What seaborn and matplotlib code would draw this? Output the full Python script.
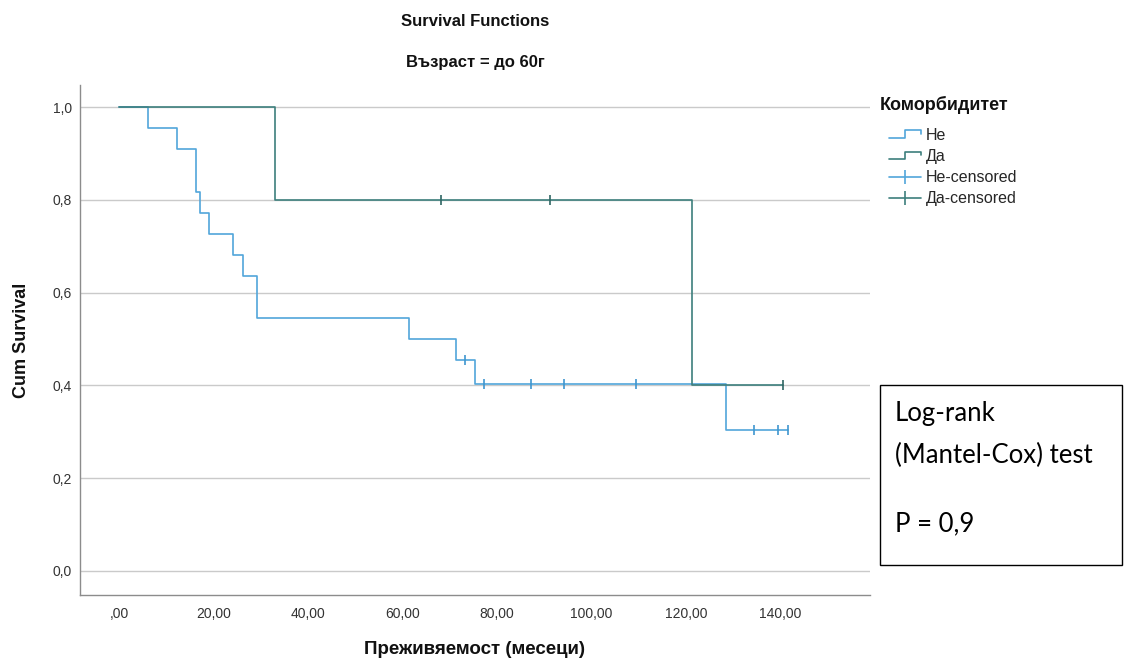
import numpy as np
import pandas as pd
import matplotlib
matplotlib.use("Agg")
import matplotlib.pyplot as plt
import seaborn as sns
from matplotlib.legend_handler import HandlerBase
from matplotlib.lines import Line2D
from matplotlib.patches import Rectangle
from matplotlib.ticker import FuncFormatter

# Kaplan-Meier step estimates (months, cumulative survival)
ne_time = [0, 6.1, 12.2, 16.2, 17.2, 19.1, 24.2, 26.2, 29.2, 61.3, 71.3, 75.3, 128.5, 141.6]
ne_surv = [1.0, 0.955, 0.909, 0.818, 0.773, 0.727, 0.682, 0.636, 0.545, 0.500, 0.455, 0.404, 0.303, 0.303]
da_time = [0, 33.1, 121.4, 140.5]
da_surv = [1.0, 0.8, 0.4, 0.4]

# Censored observations
ne_cens_time = [73.3, 77.3, 87.3, 94.3, 109.5, 134.5, 139.5, 141.6]
ne_cens_surv = [0.455, 0.404, 0.404, 0.404, 0.404, 0.303, 0.303, 0.303]
da_cens_time = [68.2, 91.3, 140.5]
da_cens_surv = [0.8, 0.8, 0.4]

groups = ["Не", "Да"]
line_colors = {"Не": "#52a6da", "Да": "#3d7f7d"}
cens_colors = {"Не": "#3f96cf", "Да": "#2f6664"}

x_ticks = [0, 20, 40, 60, 80, 100, 120, 140]
y_ticks = [0.0, 0.2, 0.4, 0.6, 0.8, 1.0]

steps = pd.concat([
    pd.DataFrame({"time": ne_time, "surv": ne_surv, "group": "Не"}),
    pd.DataFrame({"time": da_time, "surv": da_surv, "group": "Да"}),
], ignore_index=True)
cens = pd.concat([
    pd.DataFrame({"time": ne_cens_time, "surv": ne_cens_surv, "group": "Не"}),
    pd.DataFrame({"time": da_cens_time, "surv": da_cens_surv, "group": "Да"}),
], ignore_index=True)

sns.set_style("white")
plt.rcParams["font.family"] = ["Liberation Sans", "DejaVu Sans"]

W, H = 1124, 668
fig = plt.figure(figsize=(W / 100, H / 100), dpi=100)
ax = fig.add_axes([80 / W, 1 - 595 / H, 790 / W, 510 / H])

for g in groups:
    sub = steps[steps["group"] == g]
    sns.lineplot(data=sub, x="time", y="surv", color=line_colors[g],
                 drawstyle="steps-post", estimator=None, sort=False,
                 linewidth=1.2, ax=ax, legend=False)
for g in groups:
    sub = cens[cens["group"] == g]
    sns.scatterplot(data=sub, x="time", y="surv", marker="|", s=48,
                    color=cens_colors[g], edgecolor=cens_colors[g],
                    linewidth=1.2, ax=ax, legend=False, zorder=4)

ax.set_xlim(-8.3, 159)
ax.set_ylim(-0.052, 1.048)
ax.set_xticks(x_ticks)
ax.set_yticks(y_ticks)


def fmt_x(v, pos):
    s = f"{v:.2f}".replace(".", ",")
    return s[1:] if s.startswith("0,") else s


ax.xaxis.set_major_formatter(FuncFormatter(fmt_x))
ax.yaxis.set_major_formatter(FuncFormatter(lambda v, p: f"{v:.1f}".replace(".", ",")))
ax.tick_params(axis="both", length=0, labelsize=10, labelcolor="#333333")
ax.tick_params(axis="x", pad=9)
ax.tick_params(axis="y", pad=6)

ax.yaxis.grid(True, color="#cacaca", linewidth=1)
ax.xaxis.grid(False)
for side in ("top", "right"):
    ax.spines[side].set_visible(False)
for side in ("left", "bottom"):
    ax.spines[side].set_color("#8c8c8c")
    ax.spines[side].set_linewidth(1)

ax.set_xlabel("Преживяемост (месеци)", fontsize=13.5, fontweight="bold", color="#111111")
ax.xaxis.set_label_coords(0.5, (595 - 641) / 510)
ax.xaxis.label.set_va("top")
ax.set_ylabel("Cum Survival", fontsize=13, fontweight="bold", color="#111111")
ax.yaxis.set_label_coords((30 - 80) / 790, 0.5)

# Titles
fig.text(475 / W, 1 - 22 / H, "Survival Functions", ha="center", va="center",
         fontsize=12, fontweight="bold", color="#111111")
fig.text(475 / W, 1 - 63 / H, "Възраст = до 60г", ha="center", va="center",
         fontsize=12, fontweight="bold", color="#111111")


# Legend with step-shaped glyphs for the survival curves
class HandlerStep(HandlerBase):
    def create_artists(self, legend, orig_handle, xdescent, ydescent,
                       width, height, fontsize, trans):
        x0, y0 = -xdescent, -ydescent
        xs = x0 + np.array([0.0, 0.5, 0.5, 1.0, 1.0]) * width
        ys = y0 + np.array([0.2, 0.2, 0.85, 0.85, 0.5]) * height
        ln = Line2D(xs, ys, color=orig_handle.get_color(),
                    linewidth=orig_handle.get_linewidth(), transform=trans)
        return [ln]


h_ne = Line2D([], [], color=line_colors["Не"], linewidth=1.2)
h_da = Line2D([], [], color=line_colors["Да"], linewidth=1.2)
h_ne_c = Line2D([], [], color=line_colors["Не"], linewidth=1.2, marker="|",
                markersize=10, markeredgewidth=1.2)
h_da_c = Line2D([], [], color=line_colors["Да"], linewidth=1.2, marker="|",
                markersize=10, markeredgewidth=1.2)
fig.text(880 / W, 1 - 105 / H, "Коморбидитет", ha="left", va="center",
         fontsize=13, fontweight="bold", color="#111111")
fig.legend([h_ne, h_da, h_ne_c, h_da_c],
           ["Не", "Да", "Не-censored", "Да-censored"],
           handler_map={h_ne: HandlerStep(), h_da: HandlerStep()},
           loc="upper left", bbox_to_anchor=(889 / W, 1 - 128 / H),
           frameon=False, fontsize=11.5, numpoints=1,
           handlelength=2.0, handletextpad=0.3, labelspacing=0.38,
           borderpad=0, borderaxespad=0)

# Log-rank test annotation box
fig.add_artist(Rectangle((880 / W, 1 - 565 / H), 242 / W, 180 / H,
                         transform=fig.transFigure, fill=False,
                         edgecolor="black", linewidth=1))
box_font = dict(fontsize=18.5, family=["Lato", "DejaVu Sans"], color="black",
                ha="left", va="center")
fig.text(895 / W, 1 - 413 / H, "Log-rank", **box_font)
fig.text(895 / W, 1 - 455 / H, "(Mantel-Cox) test", **box_font)
fig.text(895 / W, 1 - 524 / H, "P = 0,9", **box_font)

fig.savefig("out.png", dpi=100)
